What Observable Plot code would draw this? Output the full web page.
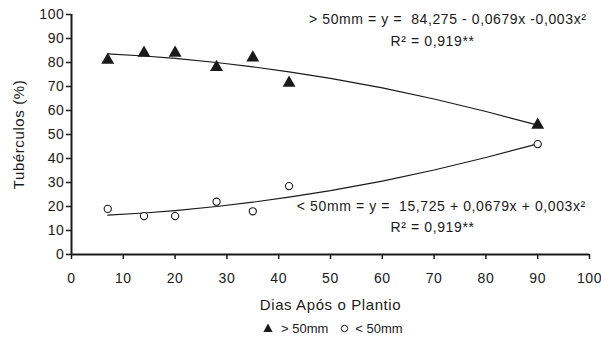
<!DOCTYPE html>
<html>
<head>
<meta charset="utf-8">
<script src="https://cdn.jsdelivr.net/npm/d3@7"></script>
<script src="https://cdn.jsdelivr.net/npm/@observablehq/plot@0.6"></script>
<style>
  html, body { margin: 0; padding: 0; background: #fff; }
  #legend { height: 24px; display: flex; align-items: center; margin-left: 263px;
    font-family: 'Liberation Sans', Arial, sans-serif; font-size: 13px; color: #1a1a1a; }
  #legend svg { display: block; }
</style>
</head>
<body>
<div id="chart"></div>
<div id="legend"></div>
<script>
// Observed data (days after planting, % of tubers)
const days = [7, 14, 20, 28, 35, 42, 90];
const above50 = [81, 84, 84, 78, 82, 71.5, 54];
const below50 = [19, 16, 16, 22, 18, 28.5, 46];

// Trend line
const fitDays = [7, 14, 20, 28, 35, 42, 50, 60, 70, 80, 90];
const fitAbove = [83.6, 82.7, 81.7, 80.0, 78.2, 76.1, 73.4, 69.4, 64.8, 59.6, 53.9];
const fitBelow = [16.4, 17.3, 18.3, 20.0, 21.8, 23.9, 26.6, 30.6, 35.2, 40.4, 46.1];

const xTicks = [0, 10, 20, 30, 40, 50, 60, 70, 80, 90, 100];
const yTicks = [0, 10, 20, 30, 40, 50, 60, 70, 80, 90, 100];

const seriesNames = ["> 50mm", "< 50mm"];
const eqAbove = "> 50mm = y =  84,275 - 0,0679x -0,003x²";
const eqBelow = "< 50mm = y =  15,725 + 0,0679x + 0,003x²";
const r2Text = "R² = 0,919**";

const pts = days.flatMap((d, i) => [
  {day: d, value: above50[i], s: seriesNames[0]},
  {day: d, value: below50[i], s: seriesNames[1]}
]);
const fitA = fitDays.map((d, i) => ({day: d, value: fitAbove[i]}));
const fitB = fitDays.map((d, i) => ({day: d, value: fitBelow[i]}));

const ink = "#1a1a1a";

const chart = Plot.plot({
  width: 601,
  height: 316,
  marginLeft: 71,
  marginRight: 12,
  marginTop: 14,
  marginBottom: 62,
  x: {domain: [0, 100]},
  y: {domain: [0, 100]},
  style: {fontFamily: "'Liberation Sans', Arial, sans-serif", fontSize: "14px", color: ink, background: "#fff", letterSpacing: "0.6px", overflow: "visible"},
  marks: [
    Plot.axisY({ticks: yTicks, tickSize: 5, tickPadding: 2, label: null, strokeWidth: 1.5, fontSize: 14}),
    Plot.axisX({ticks: xTicks, tickSize: 5, tickPadding: 14, label: null, strokeWidth: 1.5, fontSize: 14}),
    Plot.ruleX([0], {y1: 0, y2: 100, stroke: ink, strokeWidth: 2}),
    Plot.ruleY([0], {x1: 0, x2: 100, stroke: ink, strokeWidth: 2}),
    Plot.line(fitA, {x: "day", y: "value", stroke: ink, strokeWidth: 1.2}),
    Plot.line(fitB, {x: "day", y: "value", stroke: ink, strokeWidth: 1.2}),
    Plot.dot(pts.filter(d => d.s === seriesNames[0]), {x: "day", y: "value", symbol: "triangle", r: 4.8, fill: ink, stroke: "none"}),
    Plot.dot(pts.filter(d => d.s === seriesNames[1]), {x: "day", y: "value", symbol: "circle", r: 3.6, fill: "#fff", stroke: ink, strokeWidth: 1.1}),
    Plot.text([eqAbove], {frameAnchor: "top-right", dx: -3, dy: 5, textAnchor: "end", lineAnchor: "middle", fontSize: 14, fill: ink}),
    Plot.text([r2Text], {x: 69.7, y: 88.6, textAnchor: "middle", lineAnchor: "middle", fontSize: 14, fill: ink}),
    Plot.text([eqBelow], {x: 99.3, y: 20, textAnchor: "end", lineAnchor: "middle", fontSize: 14, fill: ink}),
    Plot.text([r2Text], {x: 69.7, y: 11.2, textAnchor: "middle", lineAnchor: "middle", fontSize: 14, fill: ink}),
    Plot.text(["Dias Após o Plantio"], {frameAnchor: "bottom", dy: 51, lineAnchor: "middle", fontSize: 15, fill: ink}),
    Plot.text(["Tubérculos (%)"], {frameAnchor: "left", dx: -52, rotate: -90, lineAnchor: "middle", textAnchor: "middle", fontSize: 15, fill: ink})
  ]
});
document.getElementById("chart").appendChild(chart);

// Legend below the chart
const legend = document.getElementById("legend");
legend.innerHTML =
  `<svg width="10" height="10"><path d="M5,0.5L9.6,9L0.4,9Z" fill="${ink}"/></svg>` +
  `<span style="margin-left:8px">${seriesNames[0].replace(">", "&gt;")}</span>` +
  `<svg width="9" height="9" style="margin-left:12px"><circle cx="4.5" cy="4.5" r="3.2" fill="#fff" stroke="${ink}" stroke-width="1"/></svg>` +
  `<span style="margin-left:6px">${seriesNames[1].replace("<", "&lt;")}</span>`;
</script>
</body>
</html>
